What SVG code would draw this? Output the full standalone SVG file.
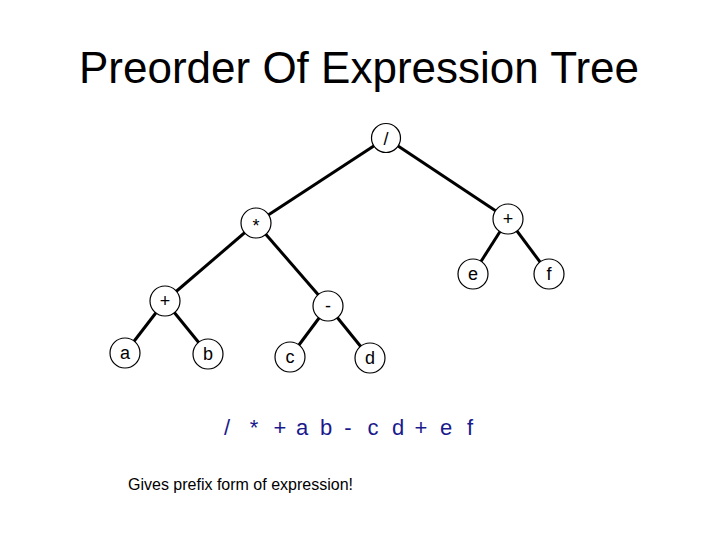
<svg xmlns="http://www.w3.org/2000/svg" width="720" height="540" viewBox="0 0 720 540">
<style>
.n{fill:#fff;stroke:#000;stroke-width:1.2}
.t{font-family:"Liberation Sans",Arial,sans-serif;font-size:18px;text-anchor:middle;fill:#000}
.e{stroke:#000;stroke-width:3}
.q{font-family:"Liberation Sans",Arial,sans-serif;font-size:22px;text-anchor:middle;fill:#1a1a8c}
</style>
<rect width="720" height="540" fill="#fff"/>
<text x="359" y="83" font-family="Liberation Sans,Arial,sans-serif" font-size="44" text-anchor="middle">Preorder Of Expression Tree</text>
<g id="edges">
<line class="e" x1="386" y1="138" x2="256" y2="223"/>
<line class="e" x1="386" y1="138" x2="508" y2="219"/>
<line class="e" x1="256" y1="223" x2="165" y2="301"/>
<line class="e" x1="256" y1="223" x2="328" y2="306"/>
<line class="e" x1="508" y1="219" x2="473" y2="274"/>
<line class="e" x1="508" y1="219" x2="549" y2="274"/>
<line class="e" x1="165" y1="301" x2="125" y2="353"/>
<line class="e" x1="165" y1="301" x2="208" y2="354"/>
<line class="e" x1="328" y1="306" x2="290" y2="357"/>
<line class="e" x1="328" y1="306" x2="370" y2="358"/>
</g>
<g id="n_div"><circle class="n" cx="386" cy="138" r="14.5"/><text class="t" x="386" y="145">/</text></g>
<g id="n_mul"><circle class="n" cx="256" cy="223" r="15"/><text class="t" x="256" y="232" font-size="14">*</text></g>
<g id="n_plus2"><circle class="n" cx="508" cy="219" r="15"/><text class="t" x="508" y="225">+</text></g>
<g id="n_plus1"><circle class="n" cx="165" cy="301" r="15"/><text class="t" x="165" y="307">+</text></g>
<g id="n_minus"><circle class="n" cx="328" cy="306" r="15"/><text class="t" x="328" y="312">-</text></g>
<g id="n_a"><circle class="n" cx="125" cy="353" r="15"/><text class="t" x="125" y="359">a</text></g>
<g id="n_b"><circle class="n" cx="208" cy="354" r="15"/><text class="t" x="208" y="360">b</text></g>
<g id="n_c"><circle class="n" cx="290" cy="357" r="15"/><text class="t" x="290" y="363">c</text></g>
<g id="n_d"><circle class="n" cx="370" cy="358" r="15"/><text class="t" x="370" y="364">d</text></g>
<g id="n_e"><circle class="n" cx="473" cy="274" r="15"/><text class="t" x="473" y="280">e</text></g>
<g id="n_f"><circle class="n" cx="549" cy="274" r="15"/><text class="t" x="549" y="280">f</text></g>
<text class="q" y="435"><tspan x="227">/</tspan><tspan x="254">*</tspan><tspan x="280">+</tspan><tspan x="302">a</tspan><tspan x="326">b</tspan><tspan x="348">-</tspan><tspan x="373">c</tspan><tspan x="398">d</tspan><tspan x="421">+</tspan><tspan x="446">e</tspan><tspan x="470">f</tspan></text>
<text x="128" y="490" font-family="Liberation Sans,Arial,sans-serif" font-size="16">Gives prefix form of expression!</text>
</svg>
